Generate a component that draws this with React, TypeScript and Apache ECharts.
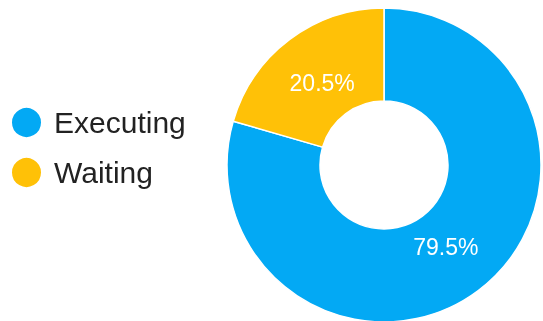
import React, { useEffect, useRef } from "react";
import * as echarts from "echarts";

const categories = ["Executing", "Waiting"];
const values = [79.5, 20.5];
const colors = ["#03A9F4", "#FFC107"];

export default function App() {
  const ref = useRef<HTMLDivElement>(null);
  useEffect(() => {
    document.body.style.margin = "0";
    const chart = echarts.init(ref.current!, null, { renderer: "svg" });
    const data = categories.map((name, i) => ({ name, value: values[i] }));
    chart.setOption({
      animation: false,
      color: colors,
      legend: {
        orient: "vertical",
        left: 5,
        top: 101,
        icon: "circle",
        itemWidth: 31,
        itemHeight: 31,
        itemGap: 17,
        data: categories,
        textStyle: {
          fontFamily: "Liberation Sans, Arial, sans-serif",
          fontSize: 30,
          color: "#222222",
          padding: [0, 0, 0, 7],
        },
      },
      series: [
        {
          type: "pie",
          center: [384, 165],
          radius: [64, 157],
          startAngle: 90,
          clockwise: true,
          label: { show: false },
          labelLine: { show: false },
          itemStyle: { borderColor: "#ffffff", borderWidth: 1.5 },
          emphasis: { disabled: true },
          data,
        },
        {
          type: "pie",
          center: [384, 165],
          radius: [43, 157],
          startAngle: 90,
          clockwise: true,
          silent: true,
          itemStyle: { color: "rgba(0,0,0,0)" },
          emphasis: { disabled: true },
          labelLine: { show: false },
          label: {
            show: true,
            position: "inside",
            color: "#ffffff",
            fontFamily: "Liberation Sans, Arial, sans-serif",
            fontSize: 23,
            formatter: (p: any) => `${p.value.toFixed(1)}%`,
          },
          data,
        },
      ],
    });
    return () => chart.dispose();
  }, []);
  return (
    <div
      ref={ref}
      style={{ position: "fixed", left: 0, top: 0, width: 543, height: 321 }}
    />
  );
}
